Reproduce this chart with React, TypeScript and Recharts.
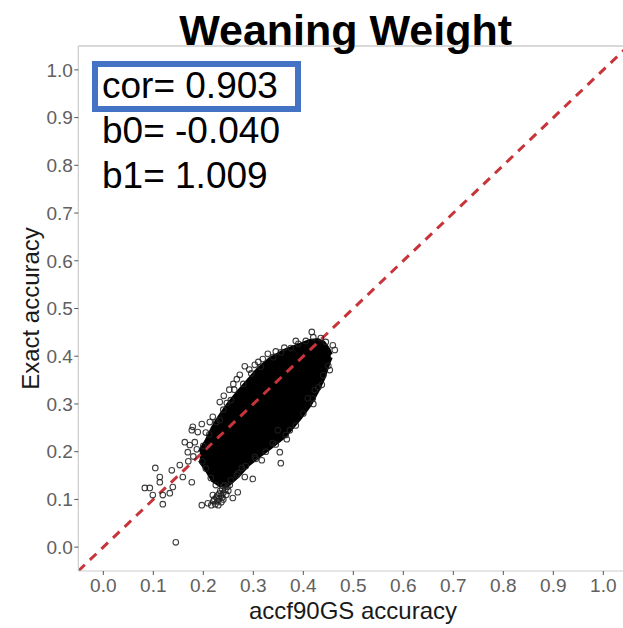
import React from 'react';
import { ComposedChart, XAxis, YAxis, Area, Scatter, Line, ReferenceLine } from 'recharts';

// axis ticks
const xTicks = [0, 0.1, 0.2, 0.3, 0.4, 0.5, 0.6, 0.7, 0.8, 0.9, 1.0];
const yTicks = [0, 0.1, 0.2, 0.3, 0.4, 0.5, 0.6, 0.7, 0.8, 0.9, 1.0];

// annotation text
const titleText = 'Weaning Weight';
const xLabel = 'accf90GS accuracy';
const yLabel = 'Exact accuracy';
const statLines = ['cor= 0.903', 'b0= -0.040', 'b1= 1.009'];

// 1:1 reference line
const diagX = [-0.05, 1.05];
const diagY = [-0.05, 1.05];

// envelope of the dense (overplotted) core of the cloud
const coreX = [0.193, 0.207, 0.219, 0.233, 0.249, 0.269, 0.289, 0.309, 0.333, 0.363, 0.393, 0.413, 0.429, 0.441, 0.451, 0.455];
const coreHigh = [0.200, 0.224, 0.250, 0.274, 0.298, 0.324, 0.348, 0.372, 0.394, 0.412, 0.424, 0.432, 0.434, 0.428, 0.413, 0.403];
const coreLow = [0.182, 0.161, 0.140, 0.130, 0.130, 0.149, 0.172, 0.189, 0.208, 0.233, 0.270, 0.298, 0.329, 0.356, 0.388, 0.398];

// individually visible points (sub-cluster, edge and outliers)
const points: [number, number][] = [
  // lower sub-cluster
  [0.224, 0.090], [0.228, 0.096], [0.232, 0.102], [0.236, 0.108], [0.240, 0.114], [0.244, 0.120],
  [0.230, 0.088], [0.236, 0.094], [0.240, 0.100], [0.226, 0.104], [0.232, 0.112], [0.238, 0.122],
  [0.246, 0.110], [0.220, 0.096], [0.216, 0.088], [0.248, 0.126], [0.242, 0.130], [0.250, 0.118],
  [0.228, 0.108], [0.234, 0.118], [0.222, 0.100], [0.238, 0.104],
  // outliers
  [0.145, 0.010], [0.104, 0.166], [0.113, 0.147], [0.113, 0.136], [0.083, 0.124], [0.093, 0.124],
  [0.099, 0.109], [0.119, 0.109], [0.119, 0.090], [0.133, 0.113], [0.139, 0.126], [0.137, 0.161],
  [0.153, 0.172], [0.159, 0.147], [0.169, 0.199], [0.173, 0.214], [0.163, 0.220], [0.183, 0.220],
  [0.177, 0.136], [0.197, 0.088], [0.209, 0.092], [0.219, 0.109], [0.253, 0.130], [0.267, 0.151],
  [0.277, 0.166], [0.283, 0.147], [0.269, 0.115], [0.259, 0.103], [0.353, 0.199], [0.355, 0.176],
  [0.299, 0.143], [0.367, 0.226], [0.339, 0.218], [0.317, 0.182], [0.303, 0.189], [0.349, 0.245],
  [0.373, 0.245], [0.419, 0.312], [0.423, 0.329], [0.409, 0.312], [0.417, 0.451], [0.329, 0.405],
  [0.319, 0.394], [0.303, 0.382], [0.283, 0.379], [0.273, 0.361], [0.267, 0.352], [0.241, 0.317],
  [0.233, 0.304], [0.247, 0.302], [0.219, 0.273], [0.233, 0.266], [0.179, 0.252], [0.177, 0.245],
  [0.197, 0.258], [0.189, 0.241], [0.463, 0.413], [0.459, 0.423], [0.453, 0.371], [0.437, 0.340],
  [0.187, 0.205], [0.180, 0.190], [0.170, 0.180], [0.205, 0.240], [0.213, 0.262], [0.252, 0.330],
  [0.260, 0.342], [0.292, 0.372], [0.310, 0.388], [0.345, 0.410], [0.362, 0.418], [0.385, 0.432],
  // edge of the dense core
  [0.200, 0.212], [0.212, 0.236], [0.226, 0.262], [0.240, 0.288], [0.255, 0.308], [0.262, 0.330],
  [0.280, 0.342], [0.296, 0.364], [0.315, 0.378], [0.340, 0.398], [0.355, 0.408], [0.375, 0.417],
  [0.390, 0.426], [0.405, 0.432], [0.420, 0.440], [0.435, 0.438], [0.445, 0.430], [0.450, 0.380],
  [0.440, 0.360], [0.430, 0.335], [0.420, 0.300], [0.400, 0.280], [0.385, 0.255], [0.365, 0.235],
  [0.345, 0.215], [0.325, 0.200], [0.305, 0.185], [0.285, 0.170], [0.270, 0.155], [0.255, 0.140],
  [0.240, 0.128], [0.225, 0.130], [0.215, 0.145], [0.205, 0.165], [0.198, 0.180],
];

const coreData = coreX.map((x, i) => ({ x, y: [coreLow[i], coreHigh[i]] }));
const scatterData = points.map(([x, y]) => ({ x, y }));
const diagData = diagX.map((x, i) => ({ x, y: diagY[i] }));

const FONT = "'Liberation Sans', Arial, Helvetica, sans-serif";

const OpenCircle = (props: any) => {
  const { cx, cy } = props;
  if (cx == null || cy == null) return null;
  return <circle cx={cx} cy={cy} r={2.8} fill="none" stroke="#1e1e1e" strokeWidth={1.1} strokeOpacity={0.85} />;
};

export default function App() {
  const W = 640;
  const H = 628;
  return (
    <div style={{ position: 'absolute', left: 0, top: 0, width: 623, height: 628, overflow: 'hidden', background: '#fff' }}>
      <ComposedChart width={W} height={H} margin={{ top: 46, right: 11.7, bottom: 17, left: 18.3 }}>
        <XAxis
          type="number"
          dataKey="x"
          domain={[-0.05, 1.05]}
          ticks={xTicks}
          interval={0}
          allowDataOverflow
          tickFormatter={(v: number) => v.toFixed(1)}
          tick={{ fill: '#606060', fontSize: 19, fontFamily: FONT }}
          axisLine={{ stroke: '#cccccc', strokeWidth: 1.2 }}
          tickLine={{ stroke: '#555555' }}
          tickSize={4}
          tickMargin={4}
          height={40}
        />
        <YAxis
          type="number"
          dataKey="y"
          domain={[-0.05, 1.05]}
          ticks={yTicks}
          interval={0}
          allowDataOverflow
          tickFormatter={(v: number) => v.toFixed(1)}
          tick={{ fill: '#606060', fontSize: 19, fontFamily: FONT }}
          axisLine={{ stroke: '#cccccc', strokeWidth: 1.2 }}
          tickLine={{ stroke: '#555555' }}
          tickSize={4}
          tickMargin={1.5}
          width={60}
        />
        <ReferenceLine y={1.05} stroke="#cccccc" strokeWidth={1.5} />
        <Area
          data={coreData}
          dataKey="y"
          type="linear"
          fill="#000000"
          fillOpacity={1}
          stroke="#000000"
          strokeWidth={4}
          dot={false}
          activeDot={false}
          isAnimationActive={false}
        />
        <Scatter data={scatterData} dataKey="y" shape={OpenCircle} isAnimationActive={false} />
        <Line
          data={diagData}
          dataKey="y"
          type="linear"
          stroke="#c7343a"
          strokeWidth={3}
          strokeDasharray="9 7"
          dot={false}
          activeDot={false}
          isAnimationActive={false}
        />
      </ComposedChart>
      <svg width={623} height={628} style={{ position: 'absolute', left: 0, top: 0, pointerEvents: 'none' }}>
        <text x={345.6} y={45} textAnchor="middle" fontFamily={FONT} fontWeight="bold" fontSize={43} fill="#000">
          {titleText}
        </text>
        <rect x={95} y={64} width={203} height={45} fill="#ffffff" stroke="#4472c4" strokeWidth={6} />
        <text x={102} y={98} fontFamily={FONT} fontSize={37} fill="#000">{statLines[0]}</text>
        <text x={102} y={142.5} fontFamily={FONT} fontSize={37} fill="#000">{statLines[1]}</text>
        <text x={102} y={187.5} fontFamily={FONT} fontSize={37} fill="#000">{statLines[2]}</text>
        <text x={353} y={619} textAnchor="middle" fontFamily={FONT} fontSize={24} fill="#1a1a1a">{xLabel}</text>
        <text
          x={0}
          y={0}
          transform="translate(38.5, 308.5) rotate(-90)"
          textAnchor="middle"
          fontFamily={FONT}
          fontSize={24}
          fill="#1a1a1a"
        >
          {yLabel}
        </text>
      </svg>
    </div>
  );
}
